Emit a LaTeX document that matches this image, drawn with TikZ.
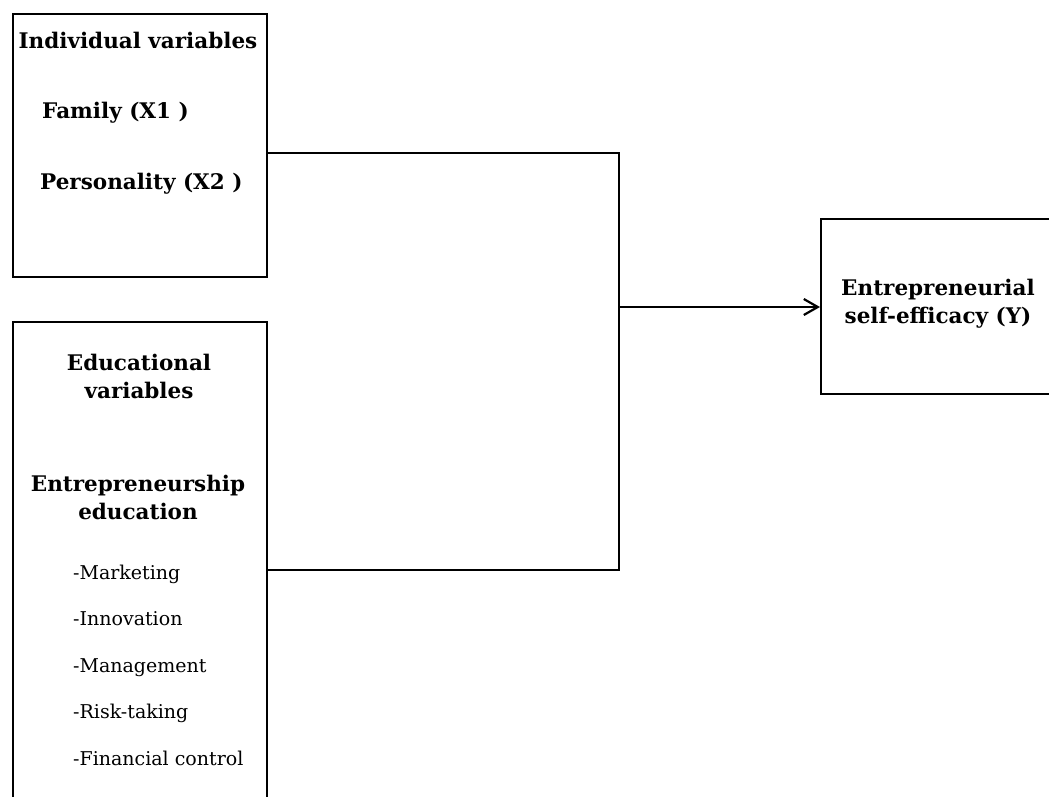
\documentclass[tikz,border=0pt]{standalone}
\usepackage{fontspec}
\setmainfont{DejaVu Serif}
\usetikzlibrary{positioning,arrows.meta}

\begin{document}
\begin{tikzpicture}[x=1pt, y=-1pt]
    \tikzset{
        varbox/.style = {rectangle, draw=black, line width=2.2pt, anchor=north west, inner sep=0pt},
        heading/.style = {font=\bfseries\fontsize{21.5}{28}\selectfont, align=center, inner sep=0pt},
        listitem/.style = {font=\fontsize{19}{22}\selectfont, anchor=west, inner sep=0pt, text height=14pt, text depth=4pt},
        line/.style = {line width=2.2pt},
        arrow/.style = {line width=2.2pt, -{Straight Barb[length=14pt, width=16pt, line width=2.2pt]}}
    }
    \useasboundingbox (0,0) rectangle (1049,796);
    \clip (0,0) rectangle (1049,796);

    % boxes
    \node (indiv) [varbox, minimum width=254pt, minimum height=263pt] at (12,13) {};
    \node (edu) [varbox, minimum width=254pt, minimum height=520pt] at (12,321) {};
    \node (ese) [varbox, minimum width=260pt, minimum height=175pt] at (820,218) {};

    % texts in the boxes
    \node (indivtitle) [heading] at (138,40) {Individual variables};
    \node (family) [heading, anchor=west] at (42,113) {Family (X1 )};
    \node (person) [heading, anchor=west] at (40,184) {Personality (X2 )};

    \node (edutitle) [heading] at (139,376) {Educational\\variables};
    \node (enteduc) [heading] at (138,497) {Entrepreneurship\\education};
    \node (mkt) [listitem] at (73,574) {-Marketing};
    \node (inno) [listitem, below=46.5pt of mkt.west, anchor=west] {-Innovation};
    \node (mgmt) [listitem, below=46.5pt of inno.west, anchor=west] {-Management};
    \node (risk) [listitem, below=46.5pt of mgmt.west, anchor=west] {-Risk-taking};
    \node (fin) [listitem, below=46.5pt of risk.west, anchor=west] {-Financial control};

    \node (esetitle) [heading] at (938,304) {Entrepreneurial\\self-efficacy (Y)};

    % connectors
    \coordinate (jtop) at (619,153);
    \coordinate (jbot) at (619,570);
    \coordinate (jmid) at (619,307);
    \draw [line] (indiv.east |- jtop) -- (jtop) -- (jbot) -- (edu.east |- jbot);
    \draw [arrow] (jmid) -- (ese.west |- jmid);
\end{tikzpicture}
\end{document}
